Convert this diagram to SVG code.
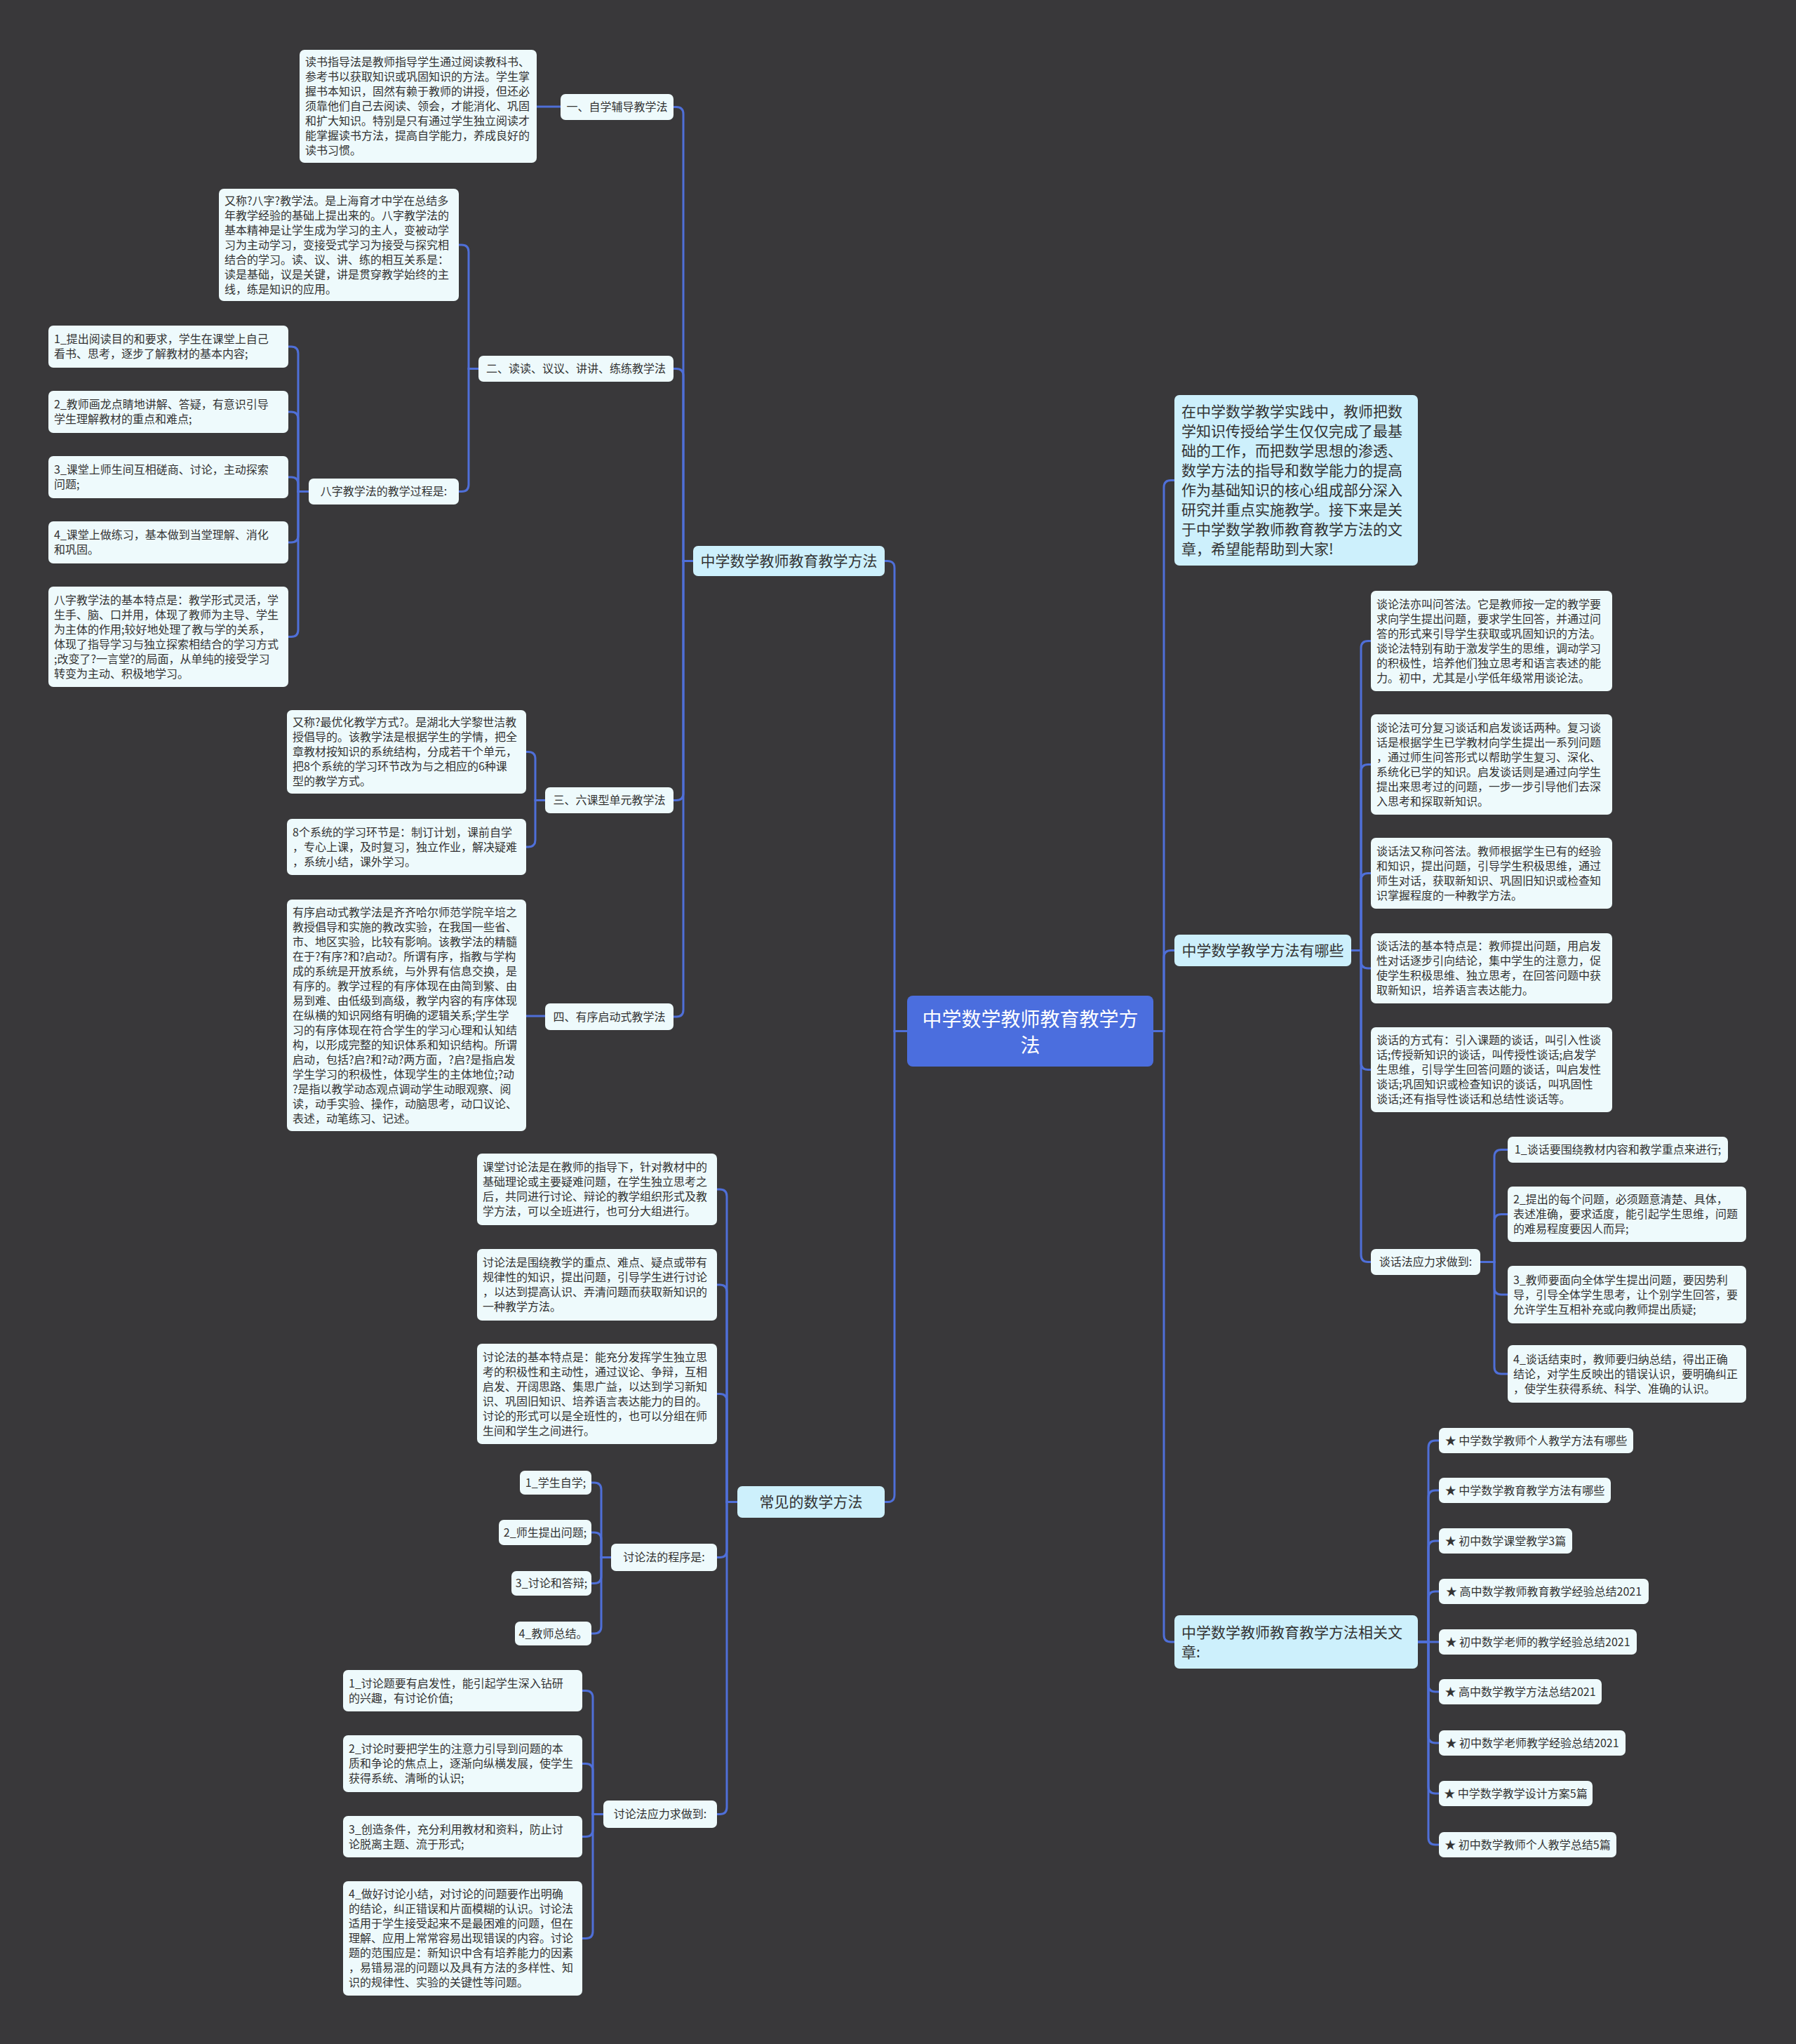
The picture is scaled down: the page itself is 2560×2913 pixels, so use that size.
<svg xmlns="http://www.w3.org/2000/svg" width="2560" height="2913" viewBox="0 0 2560 2913">
<style>
.bg{fill:#39383a}
.lf{fill:#eefafc}
.l1{fill:#cdf0fc}
.ct{fill:#4b6ede}
.t{font-family:"Noto Sans CJK SC","Noto Sans",sans-serif;font-size:16px;fill:#333}
.m{text-anchor:middle}
.t1{font-family:"Noto Sans CJK SC","Noto Sans",sans-serif;font-size:21px;fill:#333}
.tc{font-family:"Noto Sans CJK SC","Noto Sans",sans-serif;font-size:28px;fill:#fff;text-anchor:middle}
.c path{fill:none;stroke:#4f6fd8;stroke-width:3;stroke-linecap:round}
</style>
<rect class="bg" x="0" y="0" width="2560" height="2913"/>
<g class="c" id="connectors">
<path d="M1293,1469.5 H1275 V809.5 Q1275,799.5 1265,799.5 H1261"/>
<path d="M1293,1469.5 H1275 V2130.5 Q1275,2140.5 1265,2140.5 H1261"/>
<path d="M1644,1469.5 H1659 V694.5 Q1659,684.5 1669,684.5 H1674"/>
<path d="M1644,1469.5 H1659 V1364.5 Q1659,1354.5 1669,1354.5 H1674"/>
<path d="M1644,1469.5 H1659 V2330 Q1659,2340 1669,2340 H1674"/>
<path d="M988,799.5 H974 V162.5 Q974,152.5 964,152.5 H960"/>
<path d="M988,799.5 H974 V535.5 Q974,525.5 964,525.5 H960"/>
<path d="M988,799.5 H974 V1130.5 Q974,1140.5 964,1140.5 H960"/>
<path d="M988,799.5 H974 V1439 Q974,1449 964,1449 H960"/>
<path d="M799,152 H765"/>
<path d="M682,525.5 H668 V359 Q668,349 658,349 H654"/>
<path d="M682,525.5 H668 V690.5 Q668,700.5 658,700.5 H654"/>
<path d="M440,700.5 H425 V504 Q425,494 415,494 H411"/>
<path d="M440,700.5 H425 V597 Q425,587 415,587 H411"/>
<path d="M440,700.5 H425 V690 Q425,680 415,680 H411"/>
<path d="M440,700.5 H425 V763 Q425,773 415,773 H411"/>
<path d="M440,700.5 H425 V897.5 Q425,907.5 415,907.5 H411"/>
<path d="M777,1140.5 H763 V1081.5 Q763,1071.5 753,1071.5 H750"/>
<path d="M777,1140.5 H763 V1197 Q763,1207 753,1207 H750"/>
<path d="M777,1448 H750"/>
<path d="M1051,2140.5 H1036 V1705 Q1036,1695 1026,1695 H1022"/>
<path d="M1051,2140.5 H1036 V1841 Q1036,1831 1026,1831 H1022"/>
<path d="M1051,2140.5 H1036 V1996.5 Q1036,1986.5 1026,1986.5 H1022"/>
<path d="M1051,2140.5 H1036 V2209.5 Q1036,2219.5 1026,2219.5 H1022"/>
<path d="M1051,2140.5 H1036 V2575.5 Q1036,2585.5 1026,2585.5 H1022"/>
<path d="M871,2219.5 H857 V2123 Q857,2113 847,2113 H843"/>
<path d="M871,2219.5 H857 V2194 Q857,2184 847,2184 H843"/>
<path d="M871,2219.5 H857 V2246.5 Q857,2256.5 847,2256.5 H843"/>
<path d="M871,2219.5 H857 V2318 Q857,2328 847,2328 H843"/>
<path d="M860,2585.5 H845 V2419.5 Q845,2409.5 835,2409.5 H830"/>
<path d="M860,2585.5 H845 V2523.5 Q845,2513.5 835,2513.5 H830"/>
<path d="M860,2585.5 H845 V2607.5 Q845,2617.5 835,2617.5 H830"/>
<path d="M860,2585.5 H845 V2752.5 Q845,2762.5 835,2762.5 H830"/>
<path d="M1926,1354.5 H1940 V923.5 Q1940,913.5 1950,913.5 H1954"/>
<path d="M1926,1354.5 H1940 V1099.5 Q1940,1089.5 1950,1089.5 H1954"/>
<path d="M1926,1354.5 H1940 V1254.5 Q1940,1244.5 1950,1244.5 H1954"/>
<path d="M1926,1354.5 H1940 V1370 Q1940,1380 1950,1380 H1954"/>
<path d="M1926,1354.5 H1940 V1514.5 Q1940,1524.5 1950,1524.5 H1954"/>
<path d="M1926,1354.5 H1940 V1788.5 Q1940,1798.5 1950,1798.5 H1954"/>
<path d="M2110,1798.5 H2130 V1648.5 Q2130,1638.5 2140,1638.5 H2149"/>
<path d="M2110,1798.5 H2130 V1740.5 Q2130,1730.5 2140,1730.5 H2149"/>
<path d="M2110,1798.5 H2130 V1835 Q2130,1845 2140,1845 H2149"/>
<path d="M2110,1798.5 H2130 V1948 Q2130,1958 2140,1958 H2149"/>
<path d="M2021,2340 H2036 V2063 Q2036,2053 2046,2053 H2051"/>
<path d="M2021,2340 H2036 V2134 Q2036,2124 2046,2124 H2051"/>
<path d="M2021,2340 H2036 V2206 Q2036,2196 2046,2196 H2051"/>
<path d="M2021,2340 H2036 V2278 Q2036,2268 2046,2268 H2051"/>
<path d="M2021,2340 H2051"/>
<path d="M2021,2340 H2036 V2401 Q2036,2411 2046,2411 H2051"/>
<path d="M2021,2340 H2036 V2474 Q2036,2484 2046,2484 H2051"/>
<path d="M2021,2340 H2036 V2546 Q2036,2556 2046,2556 H2051"/>
<path d="M2021,2340 H2036 V2619 Q2036,2629 2046,2629 H2051"/>
</g>

<g id="center"><rect class="ct" x="1293" y="1419" width="351" height="101" rx="8"/>
<text class="tc"><tspan x="1468.5" y="1463">中学数学教师教育教学方</tspan><tspan x="1468.5" y="1500">法</tspan></text></g>

<g id="b-left1"><rect class="l1" x="988" y="778" width="273" height="43" rx="7"/><text class="t1 m" x="1124.5" y="807">中学数学教师教育教学方法</text></g>
<g id="b-left2"><rect class="l1" x="1051" y="2118" width="210" height="45" rx="7"/><text class="t1 m" x="1156" y="2148">常见的数学方法</text></g>

<g id="n-yi"><rect class="lf" x="799" y="134" width="161" height="37" rx="7"/><text class="t m" x="879.5" y="158">一、自学辅导教学法</text></g>
<g id="n-yi-1"><rect class="lf" x="427" y="71" width="338" height="161" rx="7"/>
<text class="t"><tspan x="435" y="94">读书指导法是教师指导学生通过阅读教科书、</tspan><tspan x="435" y="115">参考书以获取知识或巩固知识的方法。学生掌</tspan><tspan x="435" y="136">握书本知识，固然有赖于教师的讲授，但还必</tspan><tspan x="435" y="157">须靠他们自己去阅读、领会，才能消化、巩固</tspan><tspan x="435" y="178">和扩大知识。特别是只有通过学生独立阅读才</tspan><tspan x="435" y="199">能掌握读书方法，提高自学能力，养成良好的</tspan><tspan x="435" y="220">读书习惯。</tspan></text></g>

<g id="n-er"><rect class="lf" x="682" y="507" width="278" height="37" rx="7"/><text class="t m" x="821" y="531">二、读读、议议、讲讲、练练教学法</text></g>
<g id="n-er-1"><rect class="lf" x="312" y="269" width="342" height="160" rx="7"/>
<text class="t"><tspan x="320" y="291.5">又称?八字?教学法。是上海育才中学在总结多</tspan><tspan x="320" y="312.5">年教学经验的基础上提出来的。八字教学法的</tspan><tspan x="320" y="333.5">基本精神是让学生成为学习的主人，变被动学</tspan><tspan x="320" y="354.5">习为主动学习，变接受式学习为接受与探究相</tspan><tspan x="320" y="375.5">结合的学习。读、议、讲、练的相互关系是：</tspan><tspan x="320" y="396.5">读是基础，议是关键，讲是贯穿教学始终的主</tspan><tspan x="320" y="417.5">线，练是知识的应用。</tspan></text></g>
<g id="n-bazi"><rect class="lf" x="440" y="682" width="214" height="37" rx="7"/><text class="t m" x="547" y="706">八字教学法的教学过程是:</text></g>
<g id="n-bazi-1"><rect class="lf" x="69" y="464" width="342" height="60" rx="7"/>
<text class="t"><tspan x="77" y="489">1_提出阅读目的和要求，学生在课堂上自己</tspan><tspan x="77" y="510">看书、思考，逐步了解教材的基本内容;</tspan></text></g>
<g id="n-bazi-2"><rect class="lf" x="69" y="557" width="342" height="60" rx="7"/>
<text class="t"><tspan x="77" y="582">2_教师画龙点睛地讲解、答疑，有意识引导</tspan><tspan x="77" y="603">学生理解教材的重点和难点;</tspan></text></g>
<g id="n-bazi-3"><rect class="lf" x="69" y="650" width="342" height="60" rx="7"/>
<text class="t"><tspan x="77" y="675">3_课堂上师生间互相磋商、讨论，主动探索</tspan><tspan x="77" y="696">问题;</tspan></text></g>
<g id="n-bazi-4"><rect class="lf" x="69" y="743" width="342" height="60" rx="7"/>
<text class="t"><tspan x="77" y="768">4_课堂上做练习，基本做到当堂理解、消化</tspan><tspan x="77" y="789">和巩固。</tspan></text></g>
<g id="n-bazi-5"><rect class="lf" x="69" y="836" width="342" height="143" rx="7"/>
<text class="t"><tspan x="77" y="860.5">八字教学法的基本特点是：教学形式灵活，学</tspan><tspan x="77" y="881.5">生手、脑、口并用，体现了教师为主导、学生</tspan><tspan x="77" y="902.5">为主体的作用;较好地处理了教与学的关系，</tspan><tspan x="77" y="923.5">体现了指导学习与独立探索相结合的学习方式</tspan><tspan x="77" y="944.5">;改变了?一言堂?的局面，从单纯的接受学习</tspan><tspan x="77" y="965.5">转变为主动、积极地学习。</tspan></text></g>

<g id="n-san"><rect class="lf" x="777" y="1122" width="183" height="37" rx="7"/><text class="t m" x="868.5" y="1146">三、六课型单元教学法</text></g>
<g id="n-san-1"><rect class="lf" x="409" y="1012" width="341" height="119" rx="7"/>
<text class="t"><tspan x="417" y="1035">又称?最优化教学方式?。是湖北大学黎世洁教</tspan><tspan x="417" y="1056">授倡导的。该教学法是根据学生的学情，把全</tspan><tspan x="417" y="1077">章教材按知识的系统结构，分成若干个单元，</tspan><tspan x="417" y="1098">把8个系统的学习环节改为与之相应的6种课</tspan><tspan x="417" y="1119">型的教学方式。</tspan></text></g>
<g id="n-san-2"><rect class="lf" x="409" y="1167" width="341" height="80" rx="7"/>
<text class="t"><tspan x="417" y="1191.5">8个系统的学习环节是：制订计划，课前自学</tspan><tspan x="417" y="1212.5">，专心上课，及时复习，独立作业，解决疑难</tspan><tspan x="417" y="1233.5">，系统小结，课外学习。</tspan></text></g>

<g id="n-si"><rect class="lf" x="777" y="1430" width="183" height="38" rx="7"/><text class="t m" x="868.5" y="1454.5">四、有序启动式教学法</text></g>
<g id="n-si-1"><rect class="lf" x="409" y="1282" width="341" height="330" rx="7"/>
<text class="t"><tspan x="417" y="1305.5">有序启动式教学法是齐齐哈尔师范学院辛培之</tspan><tspan x="417" y="1326.5">教授倡导和实施的教改实验，在我国一些省、</tspan><tspan x="417" y="1347.5">市、地区实验，比较有影响。该教学法的精髓</tspan><tspan x="417" y="1368.5">在于?有序?和?启动?。所谓有序，指教与学构</tspan><tspan x="417" y="1389.5">成的系统是开放系统，与外界有信息交换，是</tspan><tspan x="417" y="1410.5">有序的。教学过程的有序体现在由简到繁、由</tspan><tspan x="417" y="1431.5">易到难、由低级到高级，教学内容的有序体现</tspan><tspan x="417" y="1452.5">在纵横的知识网络有明确的逻辑关系;学生学</tspan><tspan x="417" y="1473.5">习的有序体现在符合学生的学习心理和认知结</tspan><tspan x="417" y="1494.5">构，以形成完整的知识体系和知识结构。所谓</tspan><tspan x="417" y="1515.5">启动，包括?启?和?动?两方面，?启?是指启发</tspan><tspan x="417" y="1536.5">学生学习的积极性，体现学生的主体地位;?动</tspan><tspan x="417" y="1557.5">?是指以教学动态观点调动学生动眼观察、阅</tspan><tspan x="417" y="1578.5">读，动手实验、操作，动脑思考，动口议论、</tspan><tspan x="417" y="1599.5">表述，动笔练习、记述。</tspan></text></g>

<g id="n-d1"><rect class="lf" x="680" y="1644" width="342" height="102" rx="7"/>
<text class="t"><tspan x="688" y="1669">课堂讨论法是在教师的指导下，针对教材中的</tspan><tspan x="688" y="1690">基础理论或主要疑难问题，在学生独立思考之</tspan><tspan x="688" y="1711">后，共同进行讨论、辩论的教学组织形式及教</tspan><tspan x="688" y="1732">学方法，可以全班进行，也可分大组进行。</tspan></text></g>
<g id="n-d2"><rect class="lf" x="680" y="1780" width="342" height="102" rx="7"/>
<text class="t"><tspan x="688" y="1805">讨论法是围绕教学的重点、难点、疑点或带有</tspan><tspan x="688" y="1826">规律性的知识，提出问题，引导学生进行讨论</tspan><tspan x="688" y="1847">，以达到提高认识、弄清问题而获取新知识的</tspan><tspan x="688" y="1868">一种教学方法。</tspan></text></g>
<g id="n-d3"><rect class="lf" x="680" y="1915" width="342" height="143" rx="7"/>
<text class="t"><tspan x="688" y="1939.5">讨论法的基本特点是：能充分发挥学生独立思</tspan><tspan x="688" y="1960.5">考的积极性和主动性，通过议论、争辩，互相</tspan><tspan x="688" y="1981.5">启发、开阔思路、集思广益，以达到学习新知</tspan><tspan x="688" y="2002.5">识、巩固旧知识、培养语言表达能力的目的。</tspan><tspan x="688" y="2023.5">讨论的形式可以是全班性的，也可以分组在师</tspan><tspan x="688" y="2044.5">生间和学生之间进行。</tspan></text></g>

<g id="n-cx"><rect class="lf" x="871" y="2200" width="151" height="39" rx="7"/><text class="t m" x="946.5" y="2225">讨论法的程序是:</text></g>
<g id="n-cx-1"><rect class="lf" x="741" y="2096" width="102" height="34" rx="7"/><text class="t m" x="792" y="2118.5">1_学生自学;</text></g>
<g id="n-cx-2"><rect class="lf" x="711" y="2166" width="132" height="36" rx="7"/><text class="t m" x="777" y="2189.5">2_师生提出问题;</text></g>
<g id="n-cx-3"><rect class="lf" x="729" y="2239" width="114" height="35" rx="7"/><text class="t m" x="786" y="2262">3_讨论和答辩;</text></g>
<g id="n-cx-4"><rect class="lf" x="734" y="2311" width="109" height="34" rx="7"/><text class="t m" x="788.5" y="2333.5">4_教师总结。</text></g>

<g id="n-yq"><rect class="lf" x="860" y="2566" width="162" height="39" rx="7"/><text class="t m" x="941" y="2591">讨论法应力求做到:</text></g>
<g id="n-yq-1"><rect class="lf" x="489" y="2380" width="341" height="59" rx="7"/>
<text class="t"><tspan x="497" y="2404.5">1_讨论题要有启发性，能引起学生深入钻研</tspan><tspan x="497" y="2425.5">的兴趣，有讨论价值;</tspan></text></g>
<g id="n-yq-2"><rect class="lf" x="489" y="2473" width="341" height="81" rx="7"/>
<text class="t"><tspan x="497" y="2498">2_讨论时要把学生的注意力引导到问题的本</tspan><tspan x="497" y="2519">质和争论的焦点上，逐渐向纵横发展，使学生</tspan><tspan x="497" y="2540">获得系统、清晰的认识;</tspan></text></g>
<g id="n-yq-3"><rect class="lf" x="489" y="2588" width="341" height="59" rx="7"/>
<text class="t"><tspan x="497" y="2612.5">3_创造条件，充分利用教材和资料，防止讨</tspan><tspan x="497" y="2633.5">论脱离主题、流于形式;</tspan></text></g>
<g id="n-yq-4"><rect class="lf" x="489" y="2681" width="341" height="163" rx="7"/>
<text class="t"><tspan x="497" y="2705">4_做好讨论小结，对讨论的问题要作出明确</tspan><tspan x="497" y="2726">的结论，纠正错误和片面模糊的认识。讨论法</tspan><tspan x="497" y="2747">适用于学生接受起来不是最困难的问题，但在</tspan><tspan x="497" y="2768">理解、应用上常常容易出现错误的内容。讨论</tspan><tspan x="497" y="2789">题的范围应是：新知识中含有培养能力的因素</tspan><tspan x="497" y="2810">，易错易混的问题以及具有方法的多样性、知</tspan><tspan x="497" y="2831">识的规律性、实验的关键性等问题。</tspan></text></g>

<g id="b-intro"><rect class="l1" x="1674" y="563" width="347" height="243" rx="7"/>
<text class="t1"><tspan x="1684" y="594">在中学数学教学实践中，教师把数</tspan><tspan x="1684" y="622">学知识传授给学生仅仅完成了最基</tspan><tspan x="1684" y="650">础的工作，而把数学思想的渗透、</tspan><tspan x="1684" y="678">数学方法的指导和数学能力的提高</tspan><tspan x="1684" y="706">作为基础知识的核心组成部分深入</tspan><tspan x="1684" y="734">研究并重点实施教学。接下来是关</tspan><tspan x="1684" y="762">于中学数学教师教育教学方法的文</tspan><tspan x="1684" y="790">章，希望能帮助到大家!</tspan></text></g>
<g id="b-right2"><rect class="l1" x="1674" y="1332" width="252" height="45" rx="7"/><text class="t1 m" x="1800" y="1362">中学数学教学方法有哪些</text></g>
<g id="b-right3"><rect class="l1" x="1674" y="2302" width="347" height="76" rx="7"/>
<text class="t1"><tspan x="1684" y="2333.5">中学数学教师教育教学方法相关文</tspan><tspan x="1684" y="2361.5">章:</tspan></text></g>

<g id="n-r1"><rect class="lf" x="1954" y="842" width="344" height="143" rx="7"/>
<text class="t"><tspan x="1962" y="866.5">谈论法亦叫问答法。它是教师按一定的教学要</tspan><tspan x="1962" y="887.5">求向学生提出问题，要求学生回答，并通过问</tspan><tspan x="1962" y="908.5">答的形式来引导学生获取或巩固知识的方法。</tspan><tspan x="1962" y="929.5">谈论法特别有助于激发学生的思维，调动学习</tspan><tspan x="1962" y="950.5">的积极性，培养他们独立思考和语言表述的能</tspan><tspan x="1962" y="971.5">力。初中，尤其是小学低年级常用谈论法。</tspan></text></g>
<g id="n-r2"><rect class="lf" x="1954" y="1018" width="344" height="143" rx="7"/>
<text class="t"><tspan x="1962" y="1042.5">谈论法可分复习谈话和启发谈话两种。复习谈</tspan><tspan x="1962" y="1063.5">话是根据学生已学教材向学生提出一系列问题</tspan><tspan x="1962" y="1084.5">，通过师生问答形式以帮助学生复习、深化、</tspan><tspan x="1962" y="1105.5">系统化已学的知识。启发谈话则是通过向学生</tspan><tspan x="1962" y="1126.5">提出来思考过的问题，一步一步引导他们去深</tspan><tspan x="1962" y="1147.5">入思考和探取新知识。</tspan></text></g>
<g id="n-r3"><rect class="lf" x="1954" y="1194" width="344" height="101" rx="7"/>
<text class="t"><tspan x="1962" y="1218.5">谈话法又称问答法。教师根据学生已有的经验</tspan><tspan x="1962" y="1239.5">和知识，提出问题，引导学生积极思维，通过</tspan><tspan x="1962" y="1260.5">师生对话，获取新知识、巩固旧知识或检查知</tspan><tspan x="1962" y="1281.5">识掌握程度的一种教学方法。</tspan></text></g>
<g id="n-r4"><rect class="lf" x="1954" y="1330" width="344" height="100" rx="7"/>
<text class="t"><tspan x="1962" y="1354">谈话法的基本特点是：教师提出问题，用启发</tspan><tspan x="1962" y="1375">性对话逐步引向结论，集中学生的注意力，促</tspan><tspan x="1962" y="1396">使学生积极思维、独立思考，在回答问题中获</tspan><tspan x="1962" y="1417">取新知识，培养语言表达能力。</tspan></text></g>
<g id="n-r5"><rect class="lf" x="1954" y="1464" width="344" height="121" rx="7"/>
<text class="t"><tspan x="1962" y="1488">谈话的方式有：引入课题的谈话，叫引入性谈</tspan><tspan x="1962" y="1509">话;传授新知识的谈话，叫传授性谈话;启发学</tspan><tspan x="1962" y="1530">生思维，引导学生回答问题的谈话，叫启发性</tspan><tspan x="1962" y="1551">谈话;巩固知识或检查知识的谈话，叫巩固性</tspan><tspan x="1962" y="1572">谈话;还有指导性谈话和总结性谈话等。</tspan></text></g>

<g id="n-th"><rect class="lf" x="1954" y="1780" width="156" height="37" rx="7"/><text class="t m" x="2032" y="1804">谈话法应力求做到:</text></g>
<g id="n-th-1"><rect class="lf" x="2149" y="1620" width="314" height="37" rx="7"/><text class="t m" x="2306" y="1644">1_谈话要围绕教材内容和教学重点来进行;</text></g>
<g id="n-th-2"><rect class="lf" x="2149" y="1691" width="340" height="79" rx="7"/>
<text class="t"><tspan x="2157" y="1715">2_提出的每个问题，必须题意清楚、具体，</tspan><tspan x="2157" y="1736">表述准确，要求适度，能引起学生思维，问题</tspan><tspan x="2157" y="1757">的难易程度要因人而异;</tspan></text></g>
<g id="n-th-3"><rect class="lf" x="2149" y="1804" width="340" height="82" rx="7"/>
<text class="t"><tspan x="2157" y="1829.5">3_教师要面向全体学生提出问题，要因势利</tspan><tspan x="2157" y="1850.5">导，引导全体学生思考，让个别学生回答，要</tspan><tspan x="2157" y="1871.5">允许学生互相补充或向教师提出质疑;</tspan></text></g>
<g id="n-th-4"><rect class="lf" x="2149" y="1917" width="340" height="82" rx="7"/>
<text class="t"><tspan x="2157" y="1942.5">4_谈话结束时，教师要归纳总结，得出正确</tspan><tspan x="2157" y="1963.5">结论，对学生反映出的错误认识，要明确纠正</tspan><tspan x="2157" y="1984.5">，使学生获得系统、科学、准确的认识。</tspan></text></g>

<g id="n-a1"><rect class="lf" x="2051" y="2035" width="277" height="36" rx="7"/><text class="t m" x="2189.5" y="2058.5">★ 中学数学教师个人教学方法有哪些</text></g>
<g id="n-a2"><rect class="lf" x="2051" y="2106" width="245" height="36" rx="7"/><text class="t m" x="2173.5" y="2129.5">★ 中学数学教育教学方法有哪些</text></g>
<g id="n-a3"><rect class="lf" x="2051" y="2178" width="190" height="36" rx="7"/><text class="t m" x="2146" y="2201.5">★ 初中数学课堂教学3篇</text></g>
<g id="n-a4"><rect class="lf" x="2051" y="2250" width="299" height="36" rx="7"/><text class="t m" x="2200.5" y="2273.5">★ 高中数学教师教育教学经验总结2021</text></g>
<g id="n-a5"><rect class="lf" x="2051" y="2322" width="282" height="36" rx="7"/><text class="t m" x="2192" y="2345.5">★ 初中数学老师的教学经验总结2021</text></g>
<g id="n-a6"><rect class="lf" x="2051" y="2393" width="232" height="36" rx="7"/><text class="t m" x="2167" y="2416.5">★ 高中数学教学方法总结2021</text></g>
<g id="n-a7"><rect class="lf" x="2051" y="2466" width="266" height="36" rx="7"/><text class="t m" x="2184" y="2489.5">★ 初中数学老师教学经验总结2021</text></g>
<g id="n-a8"><rect class="lf" x="2051" y="2538" width="219" height="36" rx="7"/><text class="t m" x="2160.5" y="2561.5">★ 中学数学教学设计方案5篇</text></g>
<g id="n-a9"><rect class="lf" x="2051" y="2611" width="253" height="36" rx="7"/><text class="t m" x="2177.5" y="2634.5">★ 初中数学教师个人教学总结5篇</text></g>
</svg>
